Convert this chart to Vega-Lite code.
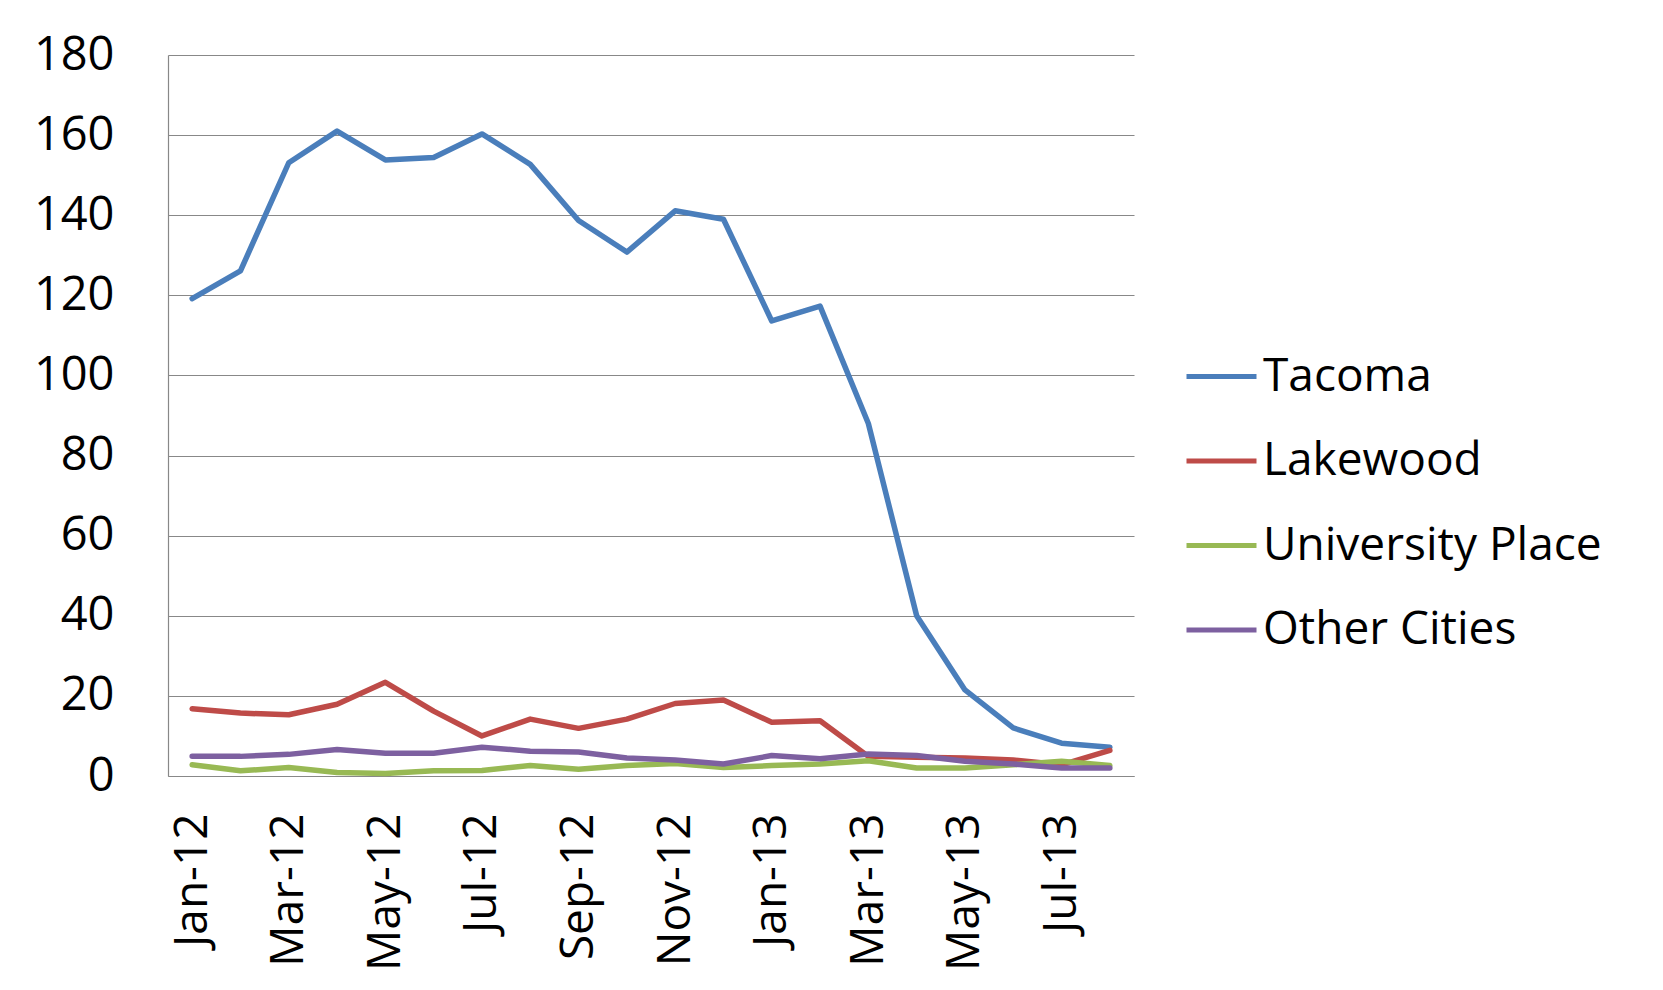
{
  "$schema": "https://vega.github.io/schema/vega-lite/v6.json",
  "autosize": {"type": "none"},
  "padding": {"left": 168, "top": 55, "right": 529, "bottom": 214},
  "width": 966,
  "height": 721,
  "background": "white",
  "config": {
    "font": "Open Sans",
    "view": {"stroke": null}
  },
  "data": {
    "values": [
      {"month": "Jan-12", "city": "Tacoma", "value": 119.2},
      {"month": "Feb-12", "city": "Tacoma", "value": 126.1},
      {"month": "Mar-12", "city": "Tacoma", "value": 153.1},
      {"month": "Apr-12", "city": "Tacoma", "value": 161},
      {"month": "May-12", "city": "Tacoma", "value": 153.8},
      {"month": "Jun-12", "city": "Tacoma", "value": 154.4},
      {"month": "Jul-12", "city": "Tacoma", "value": 160.3},
      {"month": "Aug-12", "city": "Tacoma", "value": 152.7},
      {"month": "Sep-12", "city": "Tacoma", "value": 138.7},
      {"month": "Oct-12", "city": "Tacoma", "value": 130.8},
      {"month": "Nov-12", "city": "Tacoma", "value": 141.1},
      {"month": "Dec-12", "city": "Tacoma", "value": 139},
      {"month": "Jan-13", "city": "Tacoma", "value": 113.6},
      {"month": "Feb-13", "city": "Tacoma", "value": 117.3},
      {"month": "Mar-13", "city": "Tacoma", "value": 88},
      {"month": "Apr-13", "city": "Tacoma", "value": 40},
      {"month": "May-13", "city": "Tacoma", "value": 21.5},
      {"month": "Jun-13", "city": "Tacoma", "value": 12},
      {"month": "Jul-13", "city": "Tacoma", "value": 8.2},
      {"month": "Aug-13", "city": "Tacoma", "value": 7.2},

      {"month": "Jan-12", "city": "Lakewood", "value": 16.8},
      {"month": "Feb-12", "city": "Lakewood", "value": 15.7},
      {"month": "Mar-12", "city": "Lakewood", "value": 15.3},
      {"month": "Apr-12", "city": "Lakewood", "value": 17.9},
      {"month": "May-12", "city": "Lakewood", "value": 23.4},
      {"month": "Jun-12", "city": "Lakewood", "value": 16.2},
      {"month": "Jul-12", "city": "Lakewood", "value": 10},
      {"month": "Aug-12", "city": "Lakewood", "value": 14.2},
      {"month": "Sep-12", "city": "Lakewood", "value": 11.9},
      {"month": "Oct-12", "city": "Lakewood", "value": 14.2},
      {"month": "Nov-12", "city": "Lakewood", "value": 18.1},
      {"month": "Dec-12", "city": "Lakewood", "value": 19},
      {"month": "Jan-13", "city": "Lakewood", "value": 13.4},
      {"month": "Feb-13", "city": "Lakewood", "value": 13.8},
      {"month": "Mar-13", "city": "Lakewood", "value": 4.9},
      {"month": "Apr-13", "city": "Lakewood", "value": 4.7},
      {"month": "May-13", "city": "Lakewood", "value": 4.5},
      {"month": "Jun-13", "city": "Lakewood", "value": 4},
      {"month": "Jul-13", "city": "Lakewood", "value": 2.8},
      {"month": "Aug-13", "city": "Lakewood", "value": 6.4},

      {"month": "Jan-12", "city": "University Place", "value": 2.8},
      {"month": "Feb-12", "city": "University Place", "value": 1.3},
      {"month": "Mar-12", "city": "University Place", "value": 2.1},
      {"month": "Apr-12", "city": "University Place", "value": 0.9},
      {"month": "May-12", "city": "University Place", "value": 0.6},
      {"month": "Jun-12", "city": "University Place", "value": 1.3},
      {"month": "Jul-12", "city": "University Place", "value": 1.4},
      {"month": "Aug-12", "city": "University Place", "value": 2.6},
      {"month": "Sep-12", "city": "University Place", "value": 1.7},
      {"month": "Oct-12", "city": "University Place", "value": 2.6},
      {"month": "Nov-12", "city": "University Place", "value": 3.1},
      {"month": "Dec-12", "city": "University Place", "value": 2.1},
      {"month": "Jan-13", "city": "University Place", "value": 2.6},
      {"month": "Feb-13", "city": "University Place", "value": 3},
      {"month": "Mar-13", "city": "University Place", "value": 3.8},
      {"month": "Apr-13", "city": "University Place", "value": 2},
      {"month": "May-13", "city": "University Place", "value": 2},
      {"month": "Jun-13", "city": "University Place", "value": 2.8},
      {"month": "Jul-13", "city": "University Place", "value": 3.7},
      {"month": "Aug-13", "city": "University Place", "value": 2.6},

      {"month": "Jan-12", "city": "Other Cities", "value": 4.9},
      {"month": "Feb-12", "city": "Other Cities", "value": 4.9},
      {"month": "Mar-12", "city": "Other Cities", "value": 5.4},
      {"month": "Apr-12", "city": "Other Cities", "value": 6.6},
      {"month": "May-12", "city": "Other Cities", "value": 5.7},
      {"month": "Jun-12", "city": "Other Cities", "value": 5.7},
      {"month": "Jul-12", "city": "Other Cities", "value": 7.2},
      {"month": "Aug-12", "city": "Other Cities", "value": 6.2},
      {"month": "Sep-12", "city": "Other Cities", "value": 6},
      {"month": "Oct-12", "city": "Other Cities", "value": 4.5},
      {"month": "Nov-12", "city": "Other Cities", "value": 4},
      {"month": "Dec-12", "city": "Other Cities", "value": 3},
      {"month": "Jan-13", "city": "Other Cities", "value": 5.1},
      {"month": "Feb-13", "city": "Other Cities", "value": 4.3},
      {"month": "Mar-13", "city": "Other Cities", "value": 5.5},
      {"month": "Apr-13", "city": "Other Cities", "value": 5.1},
      {"month": "May-13", "city": "Other Cities", "value": 3.7},
      {"month": "Jun-13", "city": "Other Cities", "value": 3},
      {"month": "Jul-13", "city": "Other Cities", "value": 2},
      {"month": "Aug-13", "city": "Other Cities", "value": 2}
    ]
  },
  "mark": {"type": "line", "strokeWidth": 5.5, "strokeJoin": "round", "strokeCap": "round"},
  "encoding": {
    "x": {
      "field": "month",
      "type": "ordinal",
      "sort": null,
      "scale": {"type": "point", "padding": 0.5},
      "axis": {
        "title": null,
        "values": ["Jan-12", "Mar-12", "May-12", "Jul-12", "Sep-12", "Nov-12", "Jan-13", "Mar-13", "May-13", "Jul-13"],
        "labelAngle": -90,
        "labelAlign": "right",
        "labelBaseline": "middle",
        "labelFontSize": 46,
        "labelColor": "black",
        "labelPadding": 37,
        "ticks": false,
        "tickSize": 0,
        "domainColor": "#888888",
        "domainWidth": 1.2,
        "grid": false
      }
    },
    "y": {
      "field": "value",
      "type": "quantitative",
      "scale": {"domain": [0, 180], "nice": false},
      "axis": {
        "title": null,
        "values": [0, 20, 40, 60, 80, 100, 120, 140, 160, 180],
        "labelFontSize": 47,
        "labelColor": "black",
        "labelPadding": 54,
        "ticks": false,
        "tickSize": 0,
        "domainColor": "#888888",
        "domainWidth": 1.2,
        "grid": true,
        "gridColor": "#888888",
        "gridWidth": 1.2
      }
    },
    "color": {
      "field": "city",
      "type": "nominal",
      "sort": ["Tacoma", "Lakewood", "University Place", "Other Cities"],
      "scale": {
        "domain": ["Tacoma", "Lakewood", "University Place", "Other Cities"],
        "range": ["#4A7EBB", "#BE4B48", "#98B954", "#7D60A0"]
      },
      "legend": {
        "title": null,
        "orient": "none",
        "legendX": 1016,
        "legendY": 284,
        "symbolType": "stroke",
        "symbolSize": 4900,
        "symbolStrokeWidth": 5,
        "labelFontSize": 46,
        "labelColor": "black",
        "labelOffset": 4,
        "rowPadding": 23.5,
        "labelLimit": 600
      }
    }
  }
}
